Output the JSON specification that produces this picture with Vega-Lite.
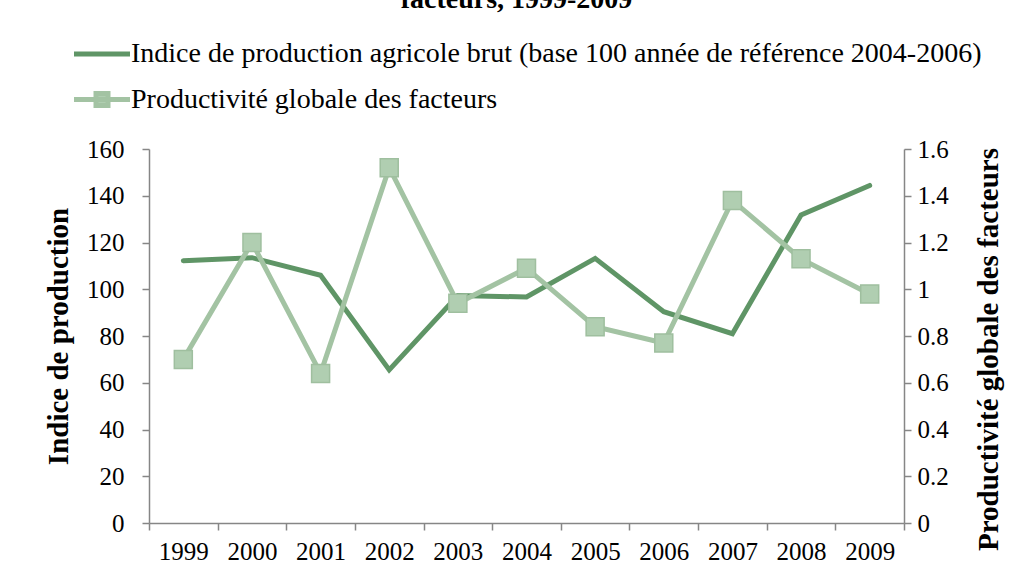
{
  "$schema": "https://vega.github.io/schema/vega-lite/v6.json",
  "autosize": "none",
  "width": 755,
  "height": 374,
  "padding": {"left": 149, "top": 149, "right": 115, "bottom": 60},
  "background": "white",
  "title": {
    "text": "facteurs, 1999-2009",
    "font": "Liberation Serif",
    "fontSize": 28,
    "fontWeight": "bold",
    "color": "black",
    "anchor": "middle",
    "offset": 26,
    "dx": -10
  },
  "config": {
    "view": {"stroke": null},
    "font": "Liberation Serif"
  },
  "data": {
    "values": [
      {"serie": "Indice de production agricole brut (base 100 année de référence 2004-2006)", "annee": "1999", "valeur": 112.2},
      {"serie": "Indice de production agricole brut (base 100 année de référence 2004-2006)", "annee": "2000", "valeur": 113.5},
      {"serie": "Indice de production agricole brut (base 100 année de référence 2004-2006)", "annee": "2001", "valeur": 106.0},
      {"serie": "Indice de production agricole brut (base 100 année de référence 2004-2006)", "annee": "2002", "valeur": 65.5},
      {"serie": "Indice de production agricole brut (base 100 année de référence 2004-2006)", "annee": "2003", "valeur": 97.3},
      {"serie": "Indice de production agricole brut (base 100 année de référence 2004-2006)", "annee": "2004", "valeur": 96.7},
      {"serie": "Indice de production agricole brut (base 100 année de référence 2004-2006)", "annee": "2005", "valeur": 113.2},
      {"serie": "Indice de production agricole brut (base 100 année de référence 2004-2006)", "annee": "2006", "valeur": 90.4},
      {"serie": "Indice de production agricole brut (base 100 année de référence 2004-2006)", "annee": "2007", "valeur": 81.0},
      {"serie": "Indice de production agricole brut (base 100 année de référence 2004-2006)", "annee": "2008", "valeur": 131.8},
      {"serie": "Indice de production agricole brut (base 100 année de référence 2004-2006)", "annee": "2009", "valeur": 144.4},
      {"serie": "Productivité globale des facteurs", "annee": "1999", "valeur": 0.70},
      {"serie": "Productivité globale des facteurs", "annee": "2000", "valeur": 1.20},
      {"serie": "Productivité globale des facteurs", "annee": "2001", "valeur": 0.64},
      {"serie": "Productivité globale des facteurs", "annee": "2002", "valeur": 1.52},
      {"serie": "Productivité globale des facteurs", "annee": "2003", "valeur": 0.94},
      {"serie": "Productivité globale des facteurs", "annee": "2004", "valeur": 1.09},
      {"serie": "Productivité globale des facteurs", "annee": "2005", "valeur": 0.84},
      {"serie": "Productivité globale des facteurs", "annee": "2006", "valeur": 0.77},
      {"serie": "Productivité globale des facteurs", "annee": "2007", "valeur": 1.38},
      {"serie": "Productivité globale des facteurs", "annee": "2008", "valeur": 1.13},
      {"serie": "Productivité globale des facteurs", "annee": "2009", "valeur": 0.98}
    ]
  },
  "encoding": {
    "x": {
      "field": "annee",
      "type": "ordinal",
      "scale": {"paddingInner": 0, "paddingOuter": 0},
      "axis": {
        "title": null,
        "labelAngle": 0,
        "tickBand": "extent",
        "labelFont": "Liberation Serif",
        "labelFontSize": 25,
        "labelColor": "black",
        "labelPadding": 9,
        "domainColor": "#868686",
        "domainWidth": 1.5,
        "tickColor": "#868686",
        "tickWidth": 1.5,
        "tickSize": 7,
        "grid": false
      }
    }
  },
  "layer": [
    {
      "transform": [{"filter": "datum.serie === 'Indice de production agricole brut (base 100 année de référence 2004-2006)'"}],
      "mark": {"type": "line", "strokeWidth": 5, "strokeCap": "round"},
      "encoding": {
        "y": {
          "field": "valeur",
          "type": "quantitative",
          "scale": {"domain": [0, 160], "nice": false, "zero": true},
          "axis": {
            "orient": "left",
            "title": "Indice de production",
            "titleFont": "Liberation Serif",
            "titleFontSize": 29,
            "titleFontWeight": "bold",
            "titleColor": "black",
            "titlePadding": 13,
            "values": [0, 20, 40, 60, 80, 100, 120, 140, 160],
            "labelFont": "Liberation Serif",
            "labelFontSize": 25,
            "labelColor": "black",
            "labelPadding": 18,
            "domainColor": "#868686",
            "domainWidth": 1.5,
            "tickColor": "#868686",
            "tickWidth": 1.5,
            "tickSize": 7,
            "grid": false
          }
        },
        "color": {
          "field": "serie",
          "type": "nominal",
          "scale": {
            "domain": ["Indice de production agricole brut (base 100 année de référence 2004-2006)", "Productivité globale des facteurs"],
            "range": ["#5f9566", "#a3c3a3"]
          },
          "legend": {
            "title": null,
            "orient": "none",
            "legendX": -61,
            "legendY": -109,
            "padding": 0,
            "labelFont": "Liberation Serif",
            "labelFontSize": 28,
            "labelColor": "black",
            "labelLimit": 1000,
            "labelOffset": 15,
            "rowPadding": 15.5,
            "symbolSize": 400,
            "symbolStrokeWidth": 5,
            "encode": {
              "symbols": {
                "update": {
                  "shape": {"signal": "datum.index === 1 ? 'M-2.8,0H2.8M-0.6,-0.6H0.6V0.6H-0.6Z' : 'M-2.8,0H2.8'"},
                  "fill": {"signal": "datum.index === 1 ? '#b0ceb1' : 'transparent'"},
                  "stroke": {"scale": "color", "field": "value"},
                  "strokeWidth": {"value": 5},
                  "size": {"value": 400},
                  "opacity": {"value": 1}
                }
              }
            }
          }
        }
      }
    },
    {
      "transform": [{"filter": "datum.serie === 'Productivité globale des facteurs'"}],
      "encoding": {
        "y": {
          "field": "valeur",
          "type": "quantitative",
          "scale": {"domain": [0, 1.6], "nice": false, "zero": true},
          "axis": {
            "orient": "right",
            "title": "Productivité globale des facteurs",
            "titleAngle": -90,
            "titleY": 200,
            "titleFont": "Liberation Serif",
            "titleFontSize": 29,
            "titleFontWeight": "bold",
            "titleColor": "black",
            "titlePadding": 55,
            "values": [0, 0.2, 0.4, 0.6, 0.8, 1, 1.2, 1.4, 1.6],
            "format": ".1~f",
            "labelFont": "Liberation Serif",
            "labelFontSize": 25,
            "labelColor": "black",
            "labelPadding": 6,
            "domainColor": "#868686",
            "domainWidth": 1.5,
            "tickColor": "#868686",
            "tickWidth": 1.5,
            "tickSize": 7,
            "grid": false
          }
        }
      },
      "layer": [
        {
          "mark": {"type": "line", "strokeWidth": 5, "strokeCap": "round"},
          "encoding": {
            "color": {"field": "serie", "type": "nominal"}
          }
        },
        {
          "mark": {"type": "point", "shape": "square", "size": 324, "filled": true, "fill": "#b0ceb1", "stroke": "#9fbf9f", "strokeWidth": 1.5, "opacity": 1},
          "encoding": {}
        }
      ]
    }
  ],
  "resolve": {"scale": {"y": "independent"}}
}
